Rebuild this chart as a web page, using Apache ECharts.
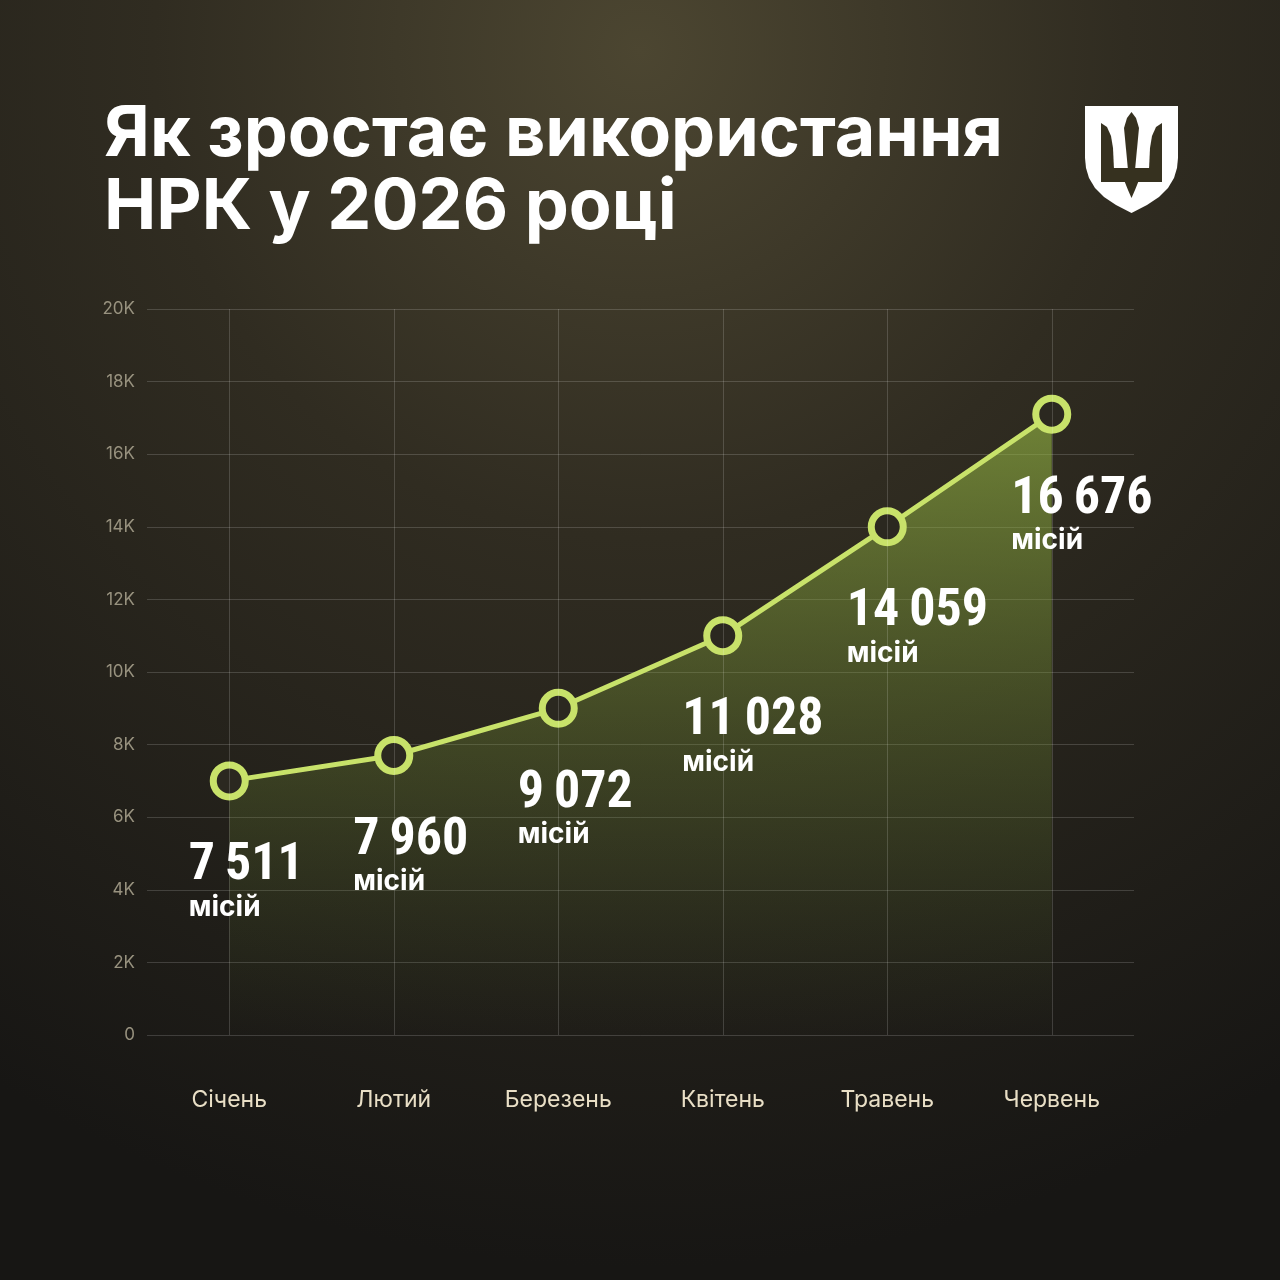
<!DOCTYPE html>
<html>
<head>
<meta charset="utf-8">
<script src="https://cdn.jsdelivr.net/npm/echarts@6/dist/echarts.min.js"></script>
<style>
  html, body { margin: 0; padding: 0; background: #1c1a16; }
  #chart { width: 1280px; height: 1280px; }
</style>
</head>
<body>
<div id="chart"></div>
<script>
// місяці
var months = ['Січень', 'Лютий', 'Березень', 'Квітень', 'Травень', 'Червень'];
// положення точок на графіку (як намальовано)
var plotted = [7000, 7700, 9000, 11000, 14000, 17100];
// підписи біля точок (з вузьким пробілом)
var labelValues = ['7\u2009511', '7\u2009960', '9\u2009072', '11\u2009028', '14\u2009059', '16\u2009676'];

var myChart = echarts.init(document.getElementById('chart'));

var seriesData = plotted.map(function (v, i) {
    return { value: v, label: { formatter: '{n|' + labelValues[i] + '}\n{m|місій}' } };
});

var LOGO_X = 1085, LOGO_Y = 106;
var TRIDENT = '#36311f';

var option = {
    backgroundColor: '#1c1a16',
    animation: false,
    title: {
        text: 'Як зростає використання\nНРК у 2026 році',
        left: 99,
        top: 93,
        textStyle: {
            color: '#ffffff',
            fontFamily: 'Inter',
            fontWeight: 700,
            fontSize: 70,
            lineHeight: 73
        }
    },
    graphic: [
        {
            type: 'rect',
            z: -10,
            silent: true,
            shape: { x: 0, y: 0, width: 1280, height: 1280 },
            style: {
                fill: {
                    type: 'radial', x: 0.5, y: 0.04, r: 0.95,
                    colorStops: [
                        { offset: 0, color: '#4c4631' },
                        { offset: 0.4, color: '#302c21' },
                        { offset: 1, color: '#171614' }
                    ]
                }
            }
        },
        {
            // щит і тризуб
            type: 'group',
            x: LOGO_X,
            y: LOGO_Y,
            silent: true,
            children: [
                {
                    type: 'polygon',
                    shape: { points: [[0, 0], [93, 0], [93, 52], [92, 62], [89, 72], [83, 82], [74, 91], [62, 99], [46.5, 107],
                        [31, 99], [19, 91], [10, 82], [4, 72], [1, 62], [0, 52]] },
                    style: { fill: '#ffffff' }
                },
                {
                    type: 'polygon',
                    shape: { points: [[16, 17], [22, 21], [26, 30], [28, 42], [29, 64], [16, 64]] },
                    style: { fill: TRIDENT }
                },
                {
                    type: 'polygon',
                    shape: { points: [[77, 17], [71, 21], [67, 30], [65, 42], [64, 64], [77, 64]] },
                    style: { fill: TRIDENT }
                },
                {
                    type: 'rect',
                    shape: { x: 16, y: 62, width: 61, height: 14 },
                    style: { fill: TRIDENT }
                },
                {
                    type: 'polygon',
                    shape: { points: [[46.5, 6], [51, 12], [54, 22], [50, 64], [43, 64], [39, 22], [42, 12]] },
                    style: { fill: TRIDENT }
                },
                {
                    type: 'polygon',
                    shape: { points: [[39, 74], [54, 74], [50, 84], [46.5, 92], [43, 84]] },
                    style: { fill: TRIDENT }
                }
            ]
        }
    ],
    grid: {
        left: 147,
        right: 146,
        top: 309,
        bottom: 245
    },
    xAxis: {
        type: 'category',
        data: months,
        boundaryGap: true,
        axisLine: { show: false },
        axisTick: { show: false },
        splitLine: { show: false },
        axisLabel: {
            color: '#e9dfc6',
            fontFamily: 'Inter',
            fontSize: 23,
            margin: 54
        }
    },
    yAxis: {
        type: 'value',
        min: 0,
        max: 20000,
        interval: 2000,
        axisLine: { show: false },
        axisTick: { show: false },
        splitLine: { lineStyle: { color: 'rgba(255,255,255,0.16)', width: 1 } },
        axisLabel: {
            color: '#98927f',
            fontFamily: 'Inter',
            fontSize: 17,
            margin: 12,
            formatter: function (v) { return v === 0 ? '0' : (v / 1000) + 'K'; }
        }
    },
    series: [
        {
            type: 'line',
            data: seriesData,
            symbol: 'circle',
            symbolSize: 32,
            itemStyle: { color: '#2b2820', borderColor: '#c8e26a', borderWidth: 7 },
            lineStyle: { color: '#c8e26a', width: 5 },
            areaStyle: {
                color: {
                    type: 'linear', x: 0, y: 0, x2: 0, y2: 1,
                    colorStops: [
                        { offset: 0, color: 'rgba(155,190,70,0.85)' },
                        { offset: 0.5, color: 'rgba(125,155,55,0.42)' },
                        { offset: 1, color: 'rgba(100,130,50,0.0)' }
                    ]
                }
            },
            label: {
                show: true,
                position: [-21, 80],
                align: 'left',
                verticalAlign: 'top',
                rich: {
                    n: {
                        color: '#ffffff',
                        fontFamily: "'Roboto Condensed', Roboto, sans-serif",
                        fontWeight: 'bold condensed',
                        fontSize: 52,
                        lineHeight: 50
                    },
                    m: {
                        color: '#ffffff',
                        fontFamily: 'Inter',
                        fontWeight: 700,
                        fontSize: 28,
                        lineHeight: 32
                    }
                }
            },
            markLine: {
                silent: true,
                symbol: 'none',
                label: { show: false },
                lineStyle: { color: 'rgba(255,255,255,0.16)', width: 1, type: 'solid' },
                data: months.map(function (m) { return { xAxis: m }; })
            },
            z: 3
        }
    ]
};

myChart.setOption(option);
</script>
</body>
</html>
